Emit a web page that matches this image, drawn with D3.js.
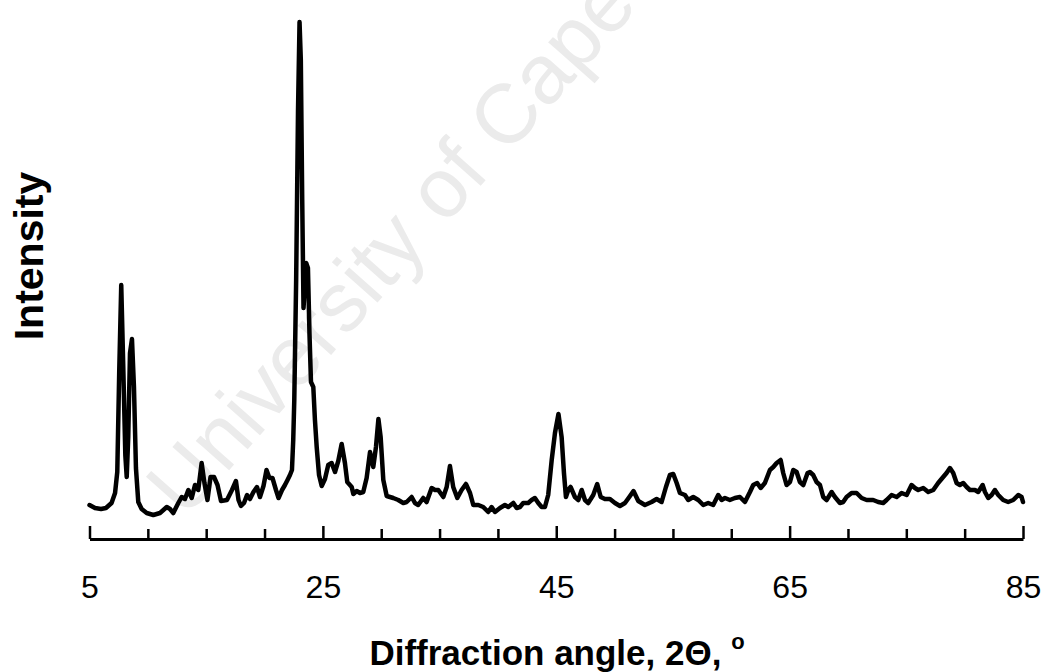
<!DOCTYPE html>
<html>
<head>
<meta charset="utf-8">
<script src="https://cdn.jsdelivr.net/npm/d3@7"></script>
<style>
  html, body { margin: 0; padding: 0; background: #fff; }
  svg { display: block; font-family: "Liberation Sans", Arial, sans-serif; }
</style>
</head>
<body>
<svg id="chart" width="1048" height="672"></svg>
<script>
// XRD pattern: diffraction angle (2θ, degrees) and relative intensity (a.u.)
const twoTheta = [
  5.00, 5.47, 5.99, 6.41, 6.89, 7.19, 7.38, 7.55, 7.72, 7.90,
  8.07, 8.19, 8.32, 8.47, 8.64, 8.81, 8.98, 9.18, 9.47, 9.90,
  10.47, 11.04, 11.62, 11.90, 12.18, 12.61, 12.90, 13.18, 13.47, 13.76,
  14.04, 14.32, 14.61, 14.85, 15.11, 15.37, 15.67, 15.97, 16.27, 16.78,
  17.21, 17.55, 17.77, 17.98, 18.24, 18.50, 18.75, 19.05, 19.35, 19.61,
  19.91, 20.17, 20.42, 20.68, 20.98, 21.20, 21.50, 21.75, 21.97, 22.18,
  22.35, 22.46, 22.55, 22.71, 22.87, 23.00, 23.11, 23.23, 23.34, 23.57,
  23.72, 23.85, 23.98, 24.18, 24.32, 24.47, 24.67, 24.90, 25.18, 25.46,
  25.75, 26.04, 26.32, 26.61, 26.89, 27.09, 27.47, 27.61, 27.90, 28.18,
  28.46, 28.75, 29.04, 29.32, 29.55, 29.76, 29.95, 30.18, 30.47, 31.03,
  31.46, 31.89, 32.18, 32.61, 32.89, 33.17, 33.60, 33.89, 34.32, 34.61,
  34.89, 35.32, 35.61, 35.89, 36.17, 36.52, 36.89, 37.26, 37.61, 37.89,
  38.32, 38.74, 39.17, 39.46, 39.75, 40.18, 40.60, 40.89, 41.32, 41.61,
  41.89, 42.17, 42.60, 42.89, 43.17, 43.46, 43.75, 44.03, 44.31, 44.61,
  44.89, 45.19, 45.46, 45.66, 45.83, 46.03, 46.23, 46.60, 46.89, 47.18,
  47.46, 47.74, 48.17, 48.51, 48.81, 49.17, 49.60, 50.03, 50.46, 50.89,
  51.26, 51.62, 52.03, 52.60, 53.17, 53.60, 54.03, 54.40, 54.74, 55.03,
  55.32, 55.60, 56.03, 56.31, 56.74, 57.17, 57.60, 58.02, 58.45, 58.88,
  59.17, 59.46, 59.88, 60.31, 60.74, 61.17, 61.60, 61.88, 62.22, 62.52,
  62.88, 63.31, 63.60, 63.89, 64.23, 64.45, 64.74, 65.03, 65.31, 65.60,
  65.88, 66.17, 66.54, 66.74, 67.02, 67.31, 67.60, 67.88, 68.17, 68.60,
  68.88, 69.31, 69.59, 69.88, 70.31, 70.74, 71.17, 71.60, 72.16, 72.59,
  73.02, 73.31, 73.74, 74.17, 74.60, 75.03, 75.45, 75.74, 76.02, 76.45,
  76.88, 77.31, 77.73, 78.16, 78.45, 78.74, 79.02, 79.31, 79.59, 79.88,
  80.17, 80.45, 80.88, 81.16, 81.54, 81.74, 82.02, 82.31, 82.59, 82.88,
  83.30, 83.73, 84.16, 84.59, 84.88, 85.00
];
const intensity = [
  30, 24, 22, 24, 34, 54, 96, 300, 470, 300,
  130, 86, 166, 334, 362, 266, 104, 36, 22, 14,
  10, 14, 26, 22, 14, 34, 46, 42, 60, 44,
  70, 60, 114, 74, 40, 86, 86, 70, 38, 40,
  60, 78, 40, 28, 34, 50, 42, 56, 66, 46,
  68, 100, 84, 84, 60, 44, 60, 70, 80, 90,
  100, 160, 240, 480, 820, 996, 920, 640, 424, 514,
  504, 374, 276, 266, 200, 146, 90, 68, 82, 110,
  114, 96, 118, 152, 114, 76, 66, 52, 58, 54,
  56, 84, 136, 106, 146, 202, 166, 80, 48, 44,
  40, 34, 36, 46, 34, 30, 44, 36, 64, 60,
  60, 46, 66, 108, 66, 44, 60, 72, 54, 30,
  30, 26, 16, 26, 16, 24, 30, 26, 34, 24,
  26, 34, 34, 40, 44, 34, 26, 26, 50, 120,
  174, 212, 166, 94, 46, 60, 66, 46, 40, 60,
  40, 34, 50, 72, 46, 42, 42, 34, 28, 34,
  46, 58, 38, 30, 36, 42, 36, 66, 90, 92,
  74, 54, 50, 40, 46, 40, 30, 34, 30, 50,
  40, 44, 40, 44, 46, 36, 56, 70, 74, 64,
  74, 100, 106, 114, 120, 94, 70, 76, 100, 96,
  76, 70, 94, 96, 90, 76, 70, 46, 40, 56,
  46, 34, 36, 46, 54, 54, 44, 40, 40, 36,
  34, 40, 50, 46, 54, 50, 70, 64, 60, 64,
  56, 60, 74, 86, 94, 104, 94, 74, 70, 74,
  66, 60, 60, 56, 70, 56, 44, 50, 60, 50,
  40, 36, 40, 50, 46, 36
];
const majorTicks = [5, 25, 45, 65, 85];
const minorTicks = [10, 15, 20, 30, 35, 40, 50, 55, 60, 70, 75, 80];
const xTitle = "Diffraction angle, 2\u0398, ";
const yTitle = "Intensity";
const watermark = "University of Cape Town";

const svg = d3.select("#chart");

const x = d3.scaleLinear().domain([5, 85]).range([89.5, 1023]);
const y = d3.scaleLinear().domain([0, 1000]).range([520, 20]);
const axisY = 539;

// faint watermark behind the plot
svg.append("text")
  .attr("transform", "translate(185,520) rotate(-48.5)")
  .attr("font-size", 84)
  .attr("fill", "#ebebeb")
  .text(watermark);

// pattern trace
const line = d3.line()
  .x((d, i) => x(twoTheta[i]))
  .y(d => y(d));

svg.append("path")
  .datum(intensity)
  .attr("d", line)
  .attr("fill", "none")
  .attr("stroke", "#000")
  .attr("stroke-width", 4.5)
  .attr("stroke-linejoin", "round")
  .attr("stroke-linecap", "round");

// minor ticks (every 5°), pointing up from the axis line
const minorAxis = svg.append("g")
  .attr("transform", `translate(0,${axisY})`)
  .call(d3.axisBottom(x).tickValues(minorTicks).tickSize(-10).tickSizeOuter(0).tickFormat(""));
minorAxis.select(".domain").remove();
minorAxis.selectAll(".tick line").attr("stroke", "#000").attr("stroke-width", 2.5);

// major ticks with labels
const majorAxis = svg.append("g")
  .attr("transform", `translate(0,${axisY})`)
  .call(d3.axisBottom(x).tickValues(majorTicks).tickSize(-13).tickSizeOuter(0).tickPadding(36));
majorAxis.select(".domain").attr("stroke", "#000").attr("stroke-width", 3);
majorAxis.selectAll(".tick line").attr("stroke", "#000").attr("stroke-width", 2.5);
majorAxis.selectAll(".tick text")
  .attr("font-family", "'Liberation Sans', Arial, sans-serif")
  .attr("font-size", 32)
  .attr("fill", "#000");

// axis titles
const xt = svg.append("text")
  .attr("x", 557)
  .attr("y", 665)
  .attr("text-anchor", "middle")
  .attr("font-size", 35)
  .attr("font-weight", "bold")
  .attr("fill", "#000");
xt.append("tspan").text(xTitle);
xt.append("tspan").attr("font-size", 22).attr("dy", -16).text("o");

svg.append("text")
  .attr("transform", "translate(43,256) rotate(-90)")
  .attr("text-anchor", "middle")
  .attr("font-size", 41)
  .attr("font-weight", "bold")
  .attr("fill", "#000")
  .text(yTitle);
</script>
</body>
</html>
